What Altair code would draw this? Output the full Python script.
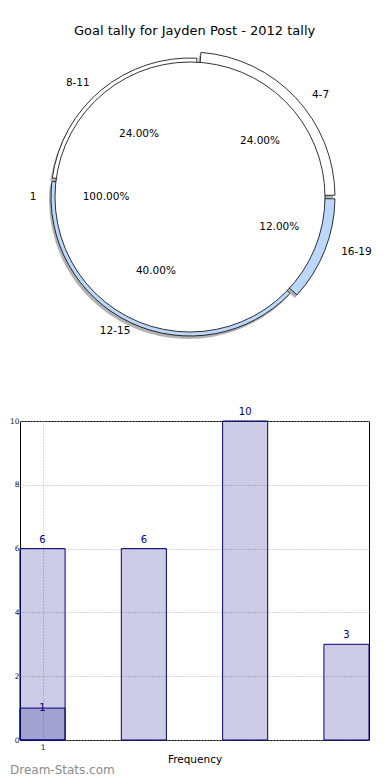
import math
import altair as alt
import pandas as pd

# ---------------- data ----------------
categories = ["4-7", "8-11", "12-15", "16-19"]
goals = [6, 6, 10, 3]
single_label = ["1"]
single_goals = [1]
x_ticks = [1]
y_ticks = [0, 2, 4, 6, 8, 10]
chart_title = "Goal tally for Jayden Post - 2012 tally"
x_title = "Frequency"
watermark = ["Dream-Stats.com"]

# ---------------- styles ----------------
FONT = "DejaVu Sans"
NAVY = "#000080"
BLUE = "#bbd7fb"
slice_colors = ["#ffffff", "#ffffff", BLUE, BLUE]

pie_df = pd.DataFrame({"range": categories, "goals": goals})
one_df = pd.DataFrame({"range": single_label, "goals": single_goals})
mark_df = pd.DataFrame({"text": watermark})

CX, CY, R = 170, 152, 135
theta_scale = alt.Scale(domain=[0, 1], range=[math.pi / 2, math.pi / 2 - 2 * math.pi])
fill_scale = alt.Scale(domain=categories + single_label, range=slice_colors + ["#ffffff"])

big = ["4-7", "16-19"]
small = ["8-11", "12-15"]


def pie_base(df):
    return (alt.Chart(df)
            .transform_joinaggregate(total="sum(goals)")
            .transform_window(cum="sum(goals)", frame=[None, 0])
            .transform_calculate(
                f0="(datum.cum - datum.goals) / datum.total",
                f1="datum.cum / datum.total",
                fm="(datum.cum - datum.goals / 2) / datum.total",
                pct="format(100 * datum.goals / datum.total, '.2f') + '%'"))


def pick(chart, names):
    return chart.transform_filter(alt.FieldOneOfPredicate(field="range", oneOf=names))


def arc_layer(df, names, ro, shadow=False, pad=0.025):
    ch = pick(pie_base(df), names)
    th = alt.Theta("f0:Q", scale=theta_scale, stack=None)
    th2 = alt.Theta2("f1")
    if shadow:
        return ch.mark_arc(outerRadius=ro, padAngle=pad, fill="#555555", opacity=0.45).encode(
            theta=th, theta2=th2, x=alt.value(CX - 2), y=alt.value(CY + 3))
    return ch.mark_arc(outerRadius=ro, padAngle=pad, stroke="black", strokeWidth=0.8).encode(
        theta=th, theta2=th2, x=alt.value(CX), y=alt.value(CY),
        fill=alt.Fill("range:N", scale=fill_scale, legend=None))


def text_layer(df, names, a, b, field):
    # label placed on an ellipse around the pie centre, at the slice's mid angle
    return (pick(pie_base(df), names)
            .transform_calculate(ang="PI / 2 - 2 * PI * datum.fm")
            .transform_calculate(lx=f"{CX} + {a} * sin(datum.ang)",
                                 ly=f"{CY} - {b} * cos(datum.ang)")
            .mark_text(font=FONT, fontSize=10.5, color="black", baseline="middle")
            .encode(x=alt.X("lx:Q", scale=None, axis=None),
                    y=alt.Y("ly:Q", scale=None, axis=None),
                    text=alt.Text(f"{field}:N")))


pie_chart = alt.layer(
    arc_layer(pie_df, big, R + 10, shadow=True),
    arc_layer(pie_df, small, R + 4, shadow=True),
    arc_layer(pie_df, big, R + 10),
    arc_layer(pie_df, small, R + 4),
    arc_layer(one_df, single_label, R, pad=0),
    text_layer(pie_df, big, 179, 149, "range"),
    text_layer(pie_df, small, 176, 148, "range"),
    text_layer(one_df, single_label, 157, 145, "range"),
    text_layer(pie_df, big, 96, 82, "pct"),
    text_layer(pie_df, small, 80, 82, "pct"),
    text_layer(one_df, single_label, 84, 82, "pct"),
).properties(width=350, height=300)

# ---------------- bar chart ----------------
x_scale = alt.Scale(domain=[0.7775, 4.2225], nice=False, zero=False)
y_scale = alt.Scale(domain=[0, 10], nice=False, zero=True)
grid_kw = dict(grid=True, gridColor="#aaaaaa", gridDash=[1, 2], gridWidth=1, domain=False,
               ticks=False, labelFont=FONT, labelFontSize=7.5, labelColor="#222222")
x_axis = alt.Axis(values=x_ticks, title=x_title, titleFont=FONT, titleFontSize=10.5,
                  titleFontWeight="normal", titleColor="black", labelPadding=3,
                  titlePadding=4, **grid_kw)
y_axis = alt.Axis(values=y_ticks, title=None, labelPadding=1, format="d", **grid_kw)


def bar_base(df):
    return (alt.Chart(df)
            .transform_window(idx="row_number()")
            .transform_calculate(x0="datum.idx - 0.2225", x1="datum.idx + 0.2225"))


def bar_layer(df):
    return bar_base(df).mark_rect(fill=NAVY, fillOpacity=0.2, stroke=NAVY, strokeWidth=1).encode(
        x=alt.X("x0:Q", scale=x_scale, axis=x_axis), x2=alt.X2("x1"),
        y=alt.Y("goals:Q", scale=y_scale, axis=y_axis), y2=alt.datum(0))


def label_layer(df, dy):
    return bar_base(df).mark_text(font=FONT, fontSize=10, color=NAVY, dy=dy, baseline="middle").encode(
        x=alt.X("idx:Q", scale=x_scale, axis=x_axis),
        y=alt.Y("goals:Q", scale=y_scale, axis=y_axis),
        text=alt.Text("goals:Q"))


wm = alt.Chart(mark_df).mark_text(font=FONT, fontSize=12, color="#8c8c8c", align="left",
                                  baseline="middle").encode(
    x=alt.value(-10), y=alt.value(349), text=alt.Text("text:N"))

bar_chart = alt.layer(
    bar_layer(pie_df), bar_layer(one_df),
    label_layer(pie_df, -9), label_layer(one_df, 0),
    wm,
).properties(width=349, height=319, view=alt.ViewBackground(stroke="black", strokeWidth=1))

chart = alt.vconcat(pie_chart, bar_chart, spacing=60).properties(
    title=alt.TitleParams(chart_title, font=FONT, fontSize=13, fontWeight="normal",
                          color="black", anchor="middle", offset=7, dx=4),
    padding={"left": 0, "top": 16, "right": 0, "bottom": 0},
).configure(font=FONT).configure_view(stroke="transparent")

chart.save("out.html", embed_options={"renderer": "svg", "actions": False})
